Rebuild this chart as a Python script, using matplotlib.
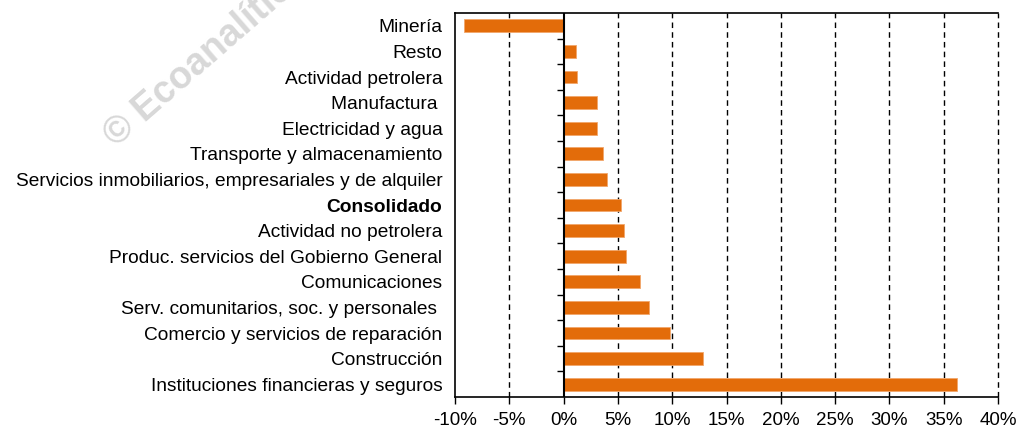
import numpy as np
import matplotlib.pyplot as plt
from matplotlib.ticker import FuncFormatter

plt.rcParams['font.family'] = ['Liberation Sans', 'DejaVu Sans']

sectors = ['Minería', 'Resto', 'Actividad petrolera', 'Manufactura ',
           'Electricidad y agua', 'Transporte y almacenamiento',
           'Servicios inmobiliarios, empresariales y de alquiler',
           'Consolidado', 'Actividad no petrolera',
           'Produc. servicios del Gobierno General', 'Comunicaciones',
           'Serv. comunitarios, soc. y personales ',
           'Comercio y servicios de reparación', 'Construcción',
           'Instituciones financieras y seguros']
growth = [-9.2, 1.1, 1.2, 3.1, 3.1, 3.6, 4.0, 5.3, 5.6, 5.7, 7.0, 7.9, 9.8, 12.8, 36.2]
xticks = [-10, -5, 0, 5, 10, 15, 20, 25, 30, 35, 40]

fig = plt.figure(figsize=(10.21, 4.33), dpi=100)

# watermark (runs off the top edge, as in the original)
fig.text(116 / 1021, 1 - 148 / 433, '© Ecoanalítica', rotation=41, fontsize=27,
         color='#d8d8d8', fontweight='bold', ha='left', va='baseline',
         rotation_mode='anchor', zorder=0)

ax = fig.add_axes([0.4456, 0.083, 0.532, 0.887])
ax.patch.set_alpha(0)

y = np.arange(len(sectors))
ax.barh(y, growth, height=0.5, color='#E36C0A', edgecolor='#F2A66A', linewidth=0.6, zorder=3)
ax.set_ylim(len(sectors) - 0.5, -0.5)
ax.set_xlim(-10, 40)

# dashed gridlines
for v in xticks:
    if v in (-10, 0):
        continue
    ax.axvline(v, color='black', linestyle=(0, (4, 3)), linewidth=1, zorder=1, clip_on=False)
ax.axvline(0, color='black', linewidth=1.5, zorder=4)

ax.set_xticks(xticks)
ax.xaxis.set_major_formatter(FuncFormatter(lambda v, p: '%d%%' % v))
ax.tick_params(axis='x', direction='out', length=5, width=1, labelsize=13.5, pad=6)

ax.set_yticks(y)
ax.set_yticklabels(sectors, fontsize=13.8)
ax.tick_params(axis='y', length=0, pad=9)
for lbl in ax.get_yticklabels():
    if lbl.get_text() == 'Consolidado':
        lbl.set_fontweight('bold')

ax.spines['right'].set_visible(False)
for s in ['left', 'top', 'bottom']:
    ax.spines[s].set_linewidth(1.2)

# category ticks on the zero line
sec = ax.secondary_yaxis(0.2)
sec.set_yticks(np.arange(len(sectors) - 1) + 0.5)
sec.set_yticklabels([])
sec.tick_params(length=5, width=1, direction='out')
sec.spines['left'].set_visible(False)

fig.savefig('out.png', dpi=100)
